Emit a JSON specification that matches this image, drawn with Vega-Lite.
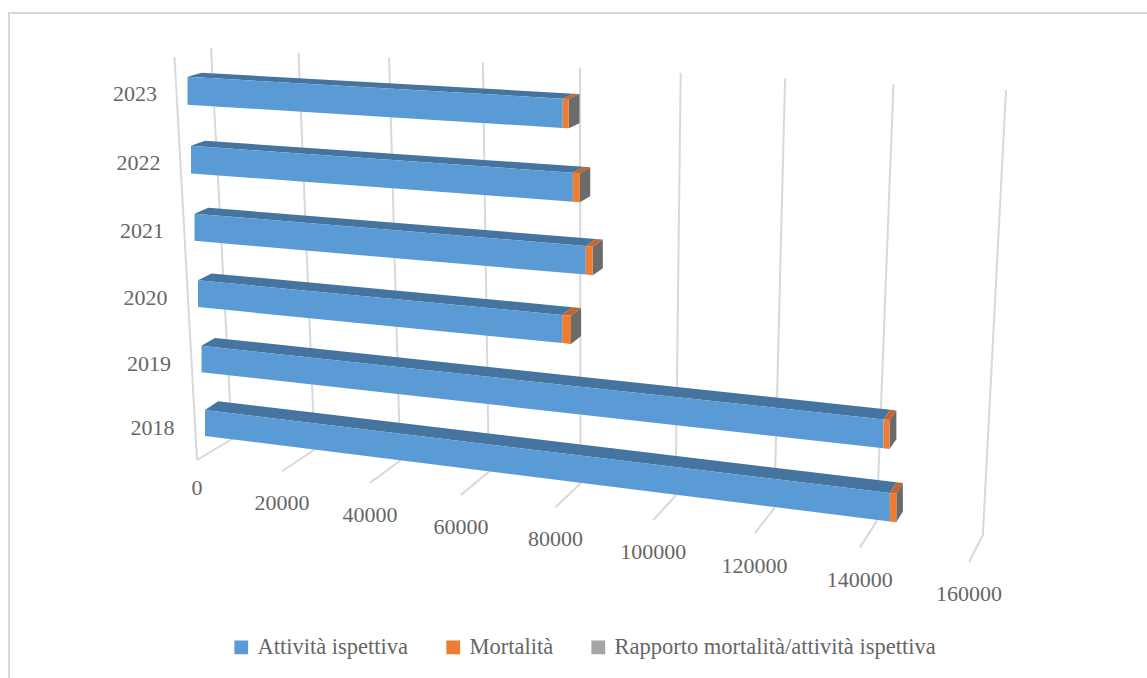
{
  "$schema": "https://vega.github.io/schema/vega-lite/v6.json",
  "width": 1150,
  "height": 680,
  "autosize": {"type": "none"},
  "padding": {"left": 9, "top": 13, "right": 0, "bottom": 0},
  "background": "white",
  "view": {"stroke": "#D9D9D9", "strokeWidth": 2},
  "config": {
    "font": "Liberation Serif",
    "axis": {"domain": false, "grid": false}
  },
  "datasets": {
    "assi": [
      {"valore": 0}, {"valore": 20000}, {"valore": 40000}, {"valore": 60000}, {"valore": 80000},
      {"valore": 100000}, {"valore": 120000}, {"valore": 140000}, {"valore": 160000}
    ],
    "anni": [
      {"anno": 2018}, {"anno": 2019}, {"anno": 2020}, {"anno": 2021}, {"anno": 2022}, {"anno": 2023}
    ],
    "barre": [
      {"anno": 2018, "serie": "Attività ispettiva", "valore": 144400},
      {"anno": 2018, "serie": "Mortalità", "valore": 1200},
      {"anno": 2018, "serie": "Rapporto mortalità/attività ispettiva", "valore": 0.008},
      {"anno": 2019, "serie": "Attività ispettiva", "valore": 142700},
      {"anno": 2019, "serie": "Mortalità", "valore": 1100},
      {"anno": 2019, "serie": "Rapporto mortalità/attività ispettiva", "valore": 0.008},
      {"anno": 2020, "serie": "Attività ispettiva", "valore": 80000},
      {"anno": 2020, "serie": "Mortalità", "valore": 1800},
      {"anno": 2020, "serie": "Rapporto mortalità/attività ispettiva", "valore": 0.022},
      {"anno": 2021, "serie": "Attività ispettiva", "valore": 84800},
      {"anno": 2021, "serie": "Mortalità", "valore": 1400},
      {"anno": 2021, "serie": "Rapporto mortalità/attività ispettiva", "valore": 0.017},
      {"anno": 2022, "serie": "Attività ispettiva", "valore": 82200},
      {"anno": 2022, "serie": "Mortalità", "valore": 1400},
      {"anno": 2022, "serie": "Rapporto mortalità/attività ispettiva", "valore": 0.017},
      {"anno": 2023, "serie": "Attività ispettiva", "valore": 80200},
      {"anno": 2023, "serie": "Mortalità", "valore": 1200},
      {"anno": 2023, "serie": "Rapporto mortalità/attività ispettiva", "valore": 0.015}
    ]
  },
  "layer": [
    {
      "data": {"name": "assi"},
      "transform": [
        {"calculate": "datum.valore / 20000", "as": "k"},
        {"calculate": "datum.k / (1 - 0.016725 * datum.k)", "as": "s"},
        {"calculate": "[0, 1, 2]", "as": "punto"},
        {"flatten": ["punto"]},
        {"calculate": "datum.punto == 0 ? 197 + 83.6 * datum.s : datum.punto == 1 ? 232 + 81.3 * datum.s : 211 + 86.08 * datum.s", "as": "px"},
        {"calculate": "datum.punto == 0 ? 460 + 11.04 * datum.s : datum.punto == 1 ? 439 + 10.39 * datum.s : 48 + 4.547 * datum.s", "as": "py"}
      ],
      "layer": [
        {
          "mark": {"type": "line", "stroke": "#D9D9D9", "strokeWidth": 2},
          "encoding": {
            "x": {"field": "px", "type": "quantitative", "scale": {"domain": [9, 1159], "nice": false, "zero": false}, "axis": null},
            "y": {"field": "py", "type": "quantitative", "scale": {"domain": [13, 693], "nice": false, "zero": false, "reverse": true}, "axis": null},
            "detail": {"field": "valore", "type": "nominal"},
            "order": {"field": "punto", "type": "quantitative"}
          }
        },
        {
          "transform": [
            {"filter": "datum.valore == 0 && datum.punto != 1"},
            {"calculate": "datum.punto == 0 ? 197 : 174.5", "as": "mx"},
            {"calculate": "datum.punto == 0 ? 460 : 57", "as": "my"}
          ],
          "mark": {"type": "line", "stroke": "#D9D9D9", "strokeWidth": 2},
          "encoding": {
            "x": {"field": "mx", "type": "quantitative"},
            "y": {"field": "my", "type": "quantitative"},
            "order": {"field": "punto", "type": "quantitative"}
          }
        },
        {
          "transform": [
            {"filter": "datum.punto == 0"},
            {"calculate": "datum.py + (datum.valore == 0 ? 28 : 32)", "as": "ety"}
          ],
          "mark": {"type": "text", "fontSize": 22, "color": "#666666", "baseline": "middle", "align": "center"},
          "encoding": {
            "x": {"field": "px", "type": "quantitative"},
            "y": {"field": "ety", "type": "quantitative"},
            "text": {"field": "valore", "type": "quantitative", "format": "d"}
          }
        }
      ]
    },
    {
      "data": {"name": "anni"},
      "transform": [
        {"calculate": "datum.anno - 2018", "as": "r"},
        {"calculate": "152.5 - 3.5 * datum.r", "as": "ax"},
        {"calculate": "428.2 - 64 * datum.r - 0.55 * datum.r * datum.r", "as": "ay"}
      ],
      "mark": {"type": "text", "fontSize": 22, "color": "#666666", "baseline": "middle", "align": "center"},
      "encoding": {
        "x": {"field": "ax", "type": "quantitative"},
        "y": {"field": "ay", "type": "quantitative"},
        "text": {"field": "anno", "type": "quantitative", "format": "d"}
      }
    },
    {
      "data": {"name": "barre"},
      "transform": [
        {"stack": "valore", "groupby": ["anno"], "sort": [{"field": "serie", "order": "ascending"}], "as": ["v0", "v1"]},
        {"calculate": "[0, 1, 2, 3]", "as": "angolo"},
        {"flatten": ["angolo"]},
        {"calculate": "datum.anno - 2018", "as": "r"},
        {"calculate": "(datum.angolo == 1 || datum.angolo == 2 ? datum.v1 : datum.v0) / 20000", "as": "k"},
        {"calculate": "datum.k / (1 - 0.016725 * datum.k)", "as": "s"},
        {"calculate": "410 - 65.3 * datum.r - 0.27 * datum.r * datum.r + 0.33 * datum.r * (5 - datum.r)", "as": "y0"},
        {"calculate": "205 - 3.5 * datum.r + (83.4 + 0.78 * datum.r) * datum.s", "as": "xf"},
        {"calculate": "datum.y0 + (10.1 - datum.r) * datum.s", "as": "yt"},
        {"calculate": "datum.y0 + 26 + 0.4 * datum.r + (10.4 - datum.r) * datum.s", "as": "yb"},
        {"calculate": "13.2 + 0.2 * datum.r - 0.8 * datum.s", "as": "dx"},
        {"calculate": "-(8.8 - 0.95 * datum.r) - 0.23 * datum.s", "as": "dy"}
      ],
      "layer": [
        {
          "transform": [
            {"filter": "datum.serie != 'Rapporto mortalità/attività ispettiva'"},
            {"calculate": "datum.angolo < 2 ? datum.xf : datum.xf + datum.dx", "as": "tx"},
            {"calculate": "datum.angolo < 2 ? datum.yt : datum.yt + datum.dy", "as": "ty"}
          ],
          "mark": {"type": "line", "strokeWidth": 0, "stroke": null, "fill": "#44749F"},
          "encoding": {
            "x": {"field": "tx", "type": "quantitative"},
            "y": {"field": "ty", "type": "quantitative"},
            "fill": {
              "condition": {"test": "datum.serie == 'Mortalità'", "value": "#C4662A"},
              "value": "#44749F"
            },
            "detail": [{"field": "anno", "type": "nominal"}, {"field": "serie", "type": "nominal"}],
            "order": {"field": "angolo", "type": "quantitative"}
          }
        },
        {
          "transform": [
            {"filter": "datum.serie == 'Rapporto mortalità/attività ispettiva'"},
            {"calculate": "datum.angolo == 0 || datum.angolo == 3 ? datum.xf : datum.xf + datum.dx", "as": "cx"},
            {"calculate": "datum.angolo == 0 ? datum.yt : datum.angolo == 1 ? datum.yt + datum.dy : datum.angolo == 2 ? datum.yb + datum.dy : datum.yb", "as": "cy"}
          ],
          "mark": {"type": "line", "strokeWidth": 0, "stroke": null, "fill": "#6B6B6B"},
          "encoding": {
            "x": {"field": "cx", "type": "quantitative"},
            "y": {"field": "cy", "type": "quantitative"},
            "detail": {"field": "anno", "type": "nominal"},
            "order": {"field": "angolo", "type": "quantitative"}
          }
        },
        {
          "transform": [
            {"calculate": "datum.angolo < 2 ? datum.yt : datum.yb", "as": "fy"}
          ],
          "mark": {"type": "line", "strokeWidth": 0, "stroke": null},
          "encoding": {
            "x": {"field": "xf", "type": "quantitative"},
            "y": {"field": "fy", "type": "quantitative"},
            "fill": {
              "field": "serie",
              "type": "nominal",
              "scale": {
                "domain": ["Attività ispettiva", "Mortalità", "Rapporto mortalità/attività ispettiva"],
                "range": ["#5B9BD5", "#ED7D31", "#A5A5A5"]
              },
              "legend": {
                "title": null,
                "orient": "none",
                "direction": "horizontal",
                "legendX": 221,
                "legendY": 623,
                "symbolType": "square",
                "symbolSize": 190,
                "symbolStrokeWidth": 0,
                "labelFontSize": 22.5,
                "labelColor": "#666666",
                "labelLimit": 500,
                "labelOffset": 5,
                "columnPadding": 33
              }
            },
            "detail": {"field": "anno", "type": "nominal"},
            "order": {"field": "angolo", "type": "quantitative"}
          }
        }
      ]
    }
  ]
}
